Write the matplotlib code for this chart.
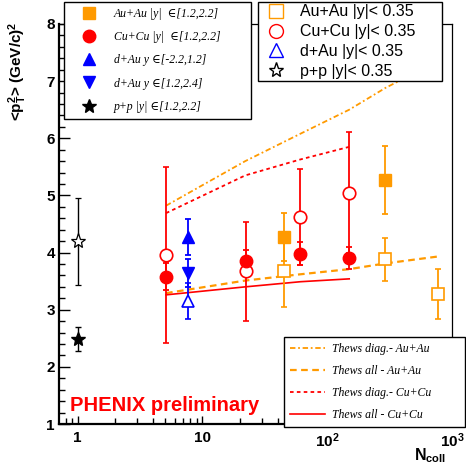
import numpy as np
import matplotlib
matplotlib.use("Agg")
import matplotlib.pyplot as plt
from matplotlib.lines import Line2D
from matplotlib.font_manager import FontProperties
from matplotlib.ticker import FixedLocator, FixedFormatter, LogLocator, NullFormatter, MultipleLocator

plt.rcParams["font.family"] = ["Liberation Sans", "DejaVu Sans"]
plt.rcParams["mathtext.fontset"] = "custom"
plt.rcParams["mathtext.rm"] = "Liberation Sans:bold"
plt.rcParams["mathtext.bf"] = "Liberation Sans:bold"
plt.rcParams["mathtext.it"] = "Liberation Sans:bold"

ORANGE = "#ff9a00"
RED = "#ff0000"
BLUE = "#0000ff"

# ---- data ----
pp_ncoll = [1.0]
pp_fwd = [2.49]
pp_fwd_err = [0.21]
pp_mid = [4.20]
pp_mid_err = [0.76]

dau_ncoll = [7.6]
dau_bwd = [4.27]
dau_bwd_err = [0.31]
dau_fwd = [3.64]
dau_fwd_err = [0.24]
dau_mid = [3.15]
dau_mid_err = [0.32]

cucu_ncoll = [5.1, 22.2, 61, 150]
cucu_fwd = [3.58, 3.85, 3.98, 3.90]
cucu_fwd_err = [0.23, 0.20, 0.20, 0.19]
cucu_mid = [3.96, 3.67, 4.63, 5.05]
cucu_mid_err = [1.54, 0.86, 0.84, 1.06]

auau_fwd_ncoll = [44.7, 292]
auau_fwd = [4.28, 5.27]
auau_fwd_err = [0.42, 0.60]
auau_mid_ncoll = [44.7, 292, 773]
auau_mid = [3.67, 3.88, 3.27]
auau_mid_err = [0.63, 0.38, 0.44]

# Thews model curves
th_au_n = [5.1, 22, 61, 150, 292, 765]
th_au_diag = [4.82, 5.60, 6.08, 6.50, 6.88, 7.35]
th_au_all = [3.29, 3.51, 3.62, 3.71, 3.81, 3.93]
th_cu_n = [5.1, 22, 61, 150]
th_cu_diag = [4.69, 5.35, 5.63, 5.85]
th_cu_all = [3.26, 3.40, 3.49, 3.54]

DASHDOT = (0, (3, 1.5, 1, 1.5))
DASHED = (0, (3, 2))
DOTTED = (0, (2, 1.8))

W, H = 466, 466
fig = plt.figure(figsize=(W / 100, H / 100), dpi=100)
ax = fig.add_axes([59 / W, 1 - 424 / H, (452 - 59) / W, (424 - 24) / H])

# theory lines
ax.plot(th_au_n, th_au_diag, color=ORANGE, ls=DASHDOT, lw=1.3)
ax.plot(th_au_n, th_au_all, color=ORANGE, ls=DASHED, lw=1.6)
ax.plot(th_cu_n, th_cu_diag, color=RED, ls=DOTTED, lw=1.3)
ax.plot(th_cu_n, th_cu_all, color=RED, ls="-", lw=1.2)

eb = dict(capsize=2.5, elinewidth=1.3, capthick=1.3, ls="none", ms=9)
ax.errorbar(cucu_ncoll, cucu_mid, yerr=cucu_mid_err, color=RED, marker="o",
            mfc="white", mec=RED, mew=1.2, **eb)
ax.errorbar(cucu_ncoll, cucu_fwd, yerr=cucu_fwd_err, color=RED, marker="o", **eb)
ax.errorbar(auau_mid_ncoll, auau_mid, yerr=auau_mid_err, color=ORANGE, marker="s",
            mfc="white", mec=ORANGE, mew=1.2, **{**eb, "ms": 8.5})
ax.errorbar(auau_fwd_ncoll, auau_fwd, yerr=auau_fwd_err, color=ORANGE, marker="s",
            **{**eb, "ms": 8.5})
ax.errorbar(dau_ncoll, dau_mid, yerr=dau_mid_err, color=BLUE, marker="^",
            mfc="white", mec=BLUE, mew=1.2, **{**eb, "ms": 9})
ax.errorbar(dau_ncoll, dau_bwd, yerr=dau_bwd_err, color=BLUE, marker="^", **{**eb, "ms": 9})
ax.errorbar(dau_ncoll, dau_fwd, yerr=dau_fwd_err, color=BLUE, marker="v", **{**eb, "ms": 9})
ax.errorbar(pp_ncoll, pp_mid, yerr=pp_mid_err, color="black", marker="*",
            mfc="white", mec="black", mew=0.9, **{**eb, "ms": 11, "elinewidth": 1.0, "capthick": 1.0})
ax.errorbar(pp_ncoll, pp_fwd, yerr=pp_fwd_err, color="black", marker="*",
            **{**eb, "ms": 10, "elinewidth": 1.0, "capthick": 1.0})

ax.set_xscale("log")
ax.set_xlim(0.708, 1000)
ax.set_ylim(1, 8)

ax.xaxis.set_major_locator(FixedLocator([1, 10, 100, 1000]))
ax.xaxis.set_major_formatter(FixedFormatter(["1", "10", r"$\mathbf{10^{2}}$", r"$\mathbf{10^{3}}$"]))
ax.xaxis.set_minor_locator(LogLocator(base=10, subs=np.arange(2, 10)))
ax.xaxis.set_minor_formatter(NullFormatter())
ax.yaxis.set_major_locator(MultipleLocator(1))
ax.yaxis.set_minor_locator(MultipleLocator(0.2))

ax.tick_params(which="both", direction="in", top=False, right=False)
ax.tick_params(axis="y", which="major", length=8, width=1.0, pad=3, labelsize=11)
ax.tick_params(axis="y", which="minor", length=4.5, width=1.0)
ax.tick_params(axis="x", which="major", length=6, width=1.0, pad=5, labelsize=11)
ax.tick_params(axis="x", which="minor", length=4, width=1.0)
for lab in ax.get_xticklabels() + ax.get_yticklabels():
    lab.set_fontweight("bold")
for s in ["left", "bottom"]:
    ax.spines[s].set_linewidth(1.6)
for s in ["top", "right"]:
    ax.spines[s].set_linewidth(0.9)

fig.text(18 / W, 1 - 22 / H, r"<p$_{\mathbf{T}}^{\mathbf{2}}$> (GeV/c)$^{\mathbf{2}}$",
         rotation=90, ha="center", va="top", fontsize=11, fontweight="bold")
fig.text(446 / W, 1 - 465 / H, r"N$_{\mathbf{coll}}$", ha="right", va="bottom",
         fontsize=11.5, fontweight="bold")
fig.text(70 / W, 1 - 411 / H, "PHENIX preliminary", color="red", fontsize=14.5,
         fontweight="bold", va="baseline")

serif_it = FontProperties(family=["Liberation Serif", "DejaVu Serif"], style="italic", size=8.5)

# legend 1: forward rapidity (filled)
h1 = [Line2D([], [], ls="none", marker="s", color=ORANGE, ms=9),
      Line2D([], [], ls="none", marker="o", color=RED, ms=9),
      Line2D([], [], ls="none", marker="^", color=BLUE, ms=9),
      Line2D([], [], ls="none", marker="v", color=BLUE, ms=9),
      Line2D([], [], ls="none", marker="*", color="black", ms=10)]
l1 = ["Au+Au |y|  \u2208[1.2,2.2]", "Cu+Cu |y|  \u2208[1.2,2.2]", "d+Au y \u2208[-2.2,1.2]",
      "d+Au y \u2208[1.2,2.4]", "p+p |y| \u2208[1.2,2.2]"]
fig.legend(h1, l1, loc="upper left", bbox_to_anchor=(64 / W, 1 - 110 / H, (251 - 64) / W, 108 / H),
           mode="expand", prop=serif_it, frameon=True, fancybox=False, edgecolor="black",
           framealpha=1, borderpad=0.5, labelspacing=0.95, handlelength=3.2, handletextpad=0.5,
           borderaxespad=0)

# legend 2: mid rapidity (open)
h2 = [Line2D([], [], ls="none", marker="s", mfc="white", mec=ORANGE, ms=10),
      Line2D([], [], ls="none", marker="o", mfc="white", mec=RED, ms=10),
      Line2D([], [], ls="none", marker="^", mfc="white", mec=BLUE, ms=10),
      Line2D([], [], ls="none", marker="*", mfc="white", mec="black", ms=11)]
l2 = ["Au+Au |y|< 0.35", "Cu+Cu |y|< 0.35", "d+Au |y|< 0.35", "p+p |y|< 0.35"]
fig.legend(h2, l2, loc="upper left", bbox_to_anchor=(258 / W, 1 - 87 / H, (442 - 258) / W, 85 / H),
           mode="expand", prop=FontProperties(family="Liberation Sans", size=11.5), frameon=True,
           fancybox=False, edgecolor="black", framealpha=1, borderpad=0.15, labelspacing=0.3,
           handlelength=2.0, handletextpad=0.5, borderaxespad=0)

# legend 3: Thews curves
h3 = [Line2D([], [], color=ORANGE, ls=DASHDOT, lw=1.3),
      Line2D([], [], color=ORANGE, ls=DASHED, lw=1.6),
      Line2D([], [], color=RED, ls=DOTTED, lw=1.3),
      Line2D([], [], color=RED, ls="-", lw=1.2)]
l3 = ["Thews diag.- Au+Au", "Thews all - Au+Au", "Thews diag.- Cu+Cu", "Thews all - Cu+Cu"]
fig.legend(h3, l3, loc="upper left", bbox_to_anchor=(284 / W, 1 - 415 / H, (465 - 284) / W, 78 / H),
           mode="expand", prop=FontProperties(family=["Liberation Serif", "DejaVu Serif"],
                                              style="italic", size=8.5),
           frameon=True, fancybox=False, edgecolor="black", framealpha=1, borderpad=0.5,
           labelspacing=0.85, handlelength=3.0, handletextpad=0.6, borderaxespad=0)

fig.savefig("out.png", dpi=100)
